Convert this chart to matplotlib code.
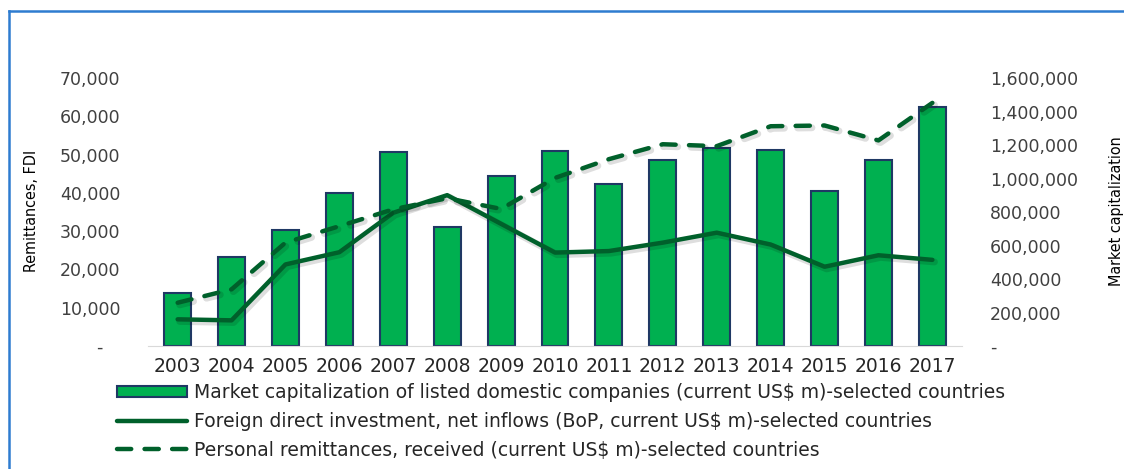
import matplotlib.pyplot as plt
import matplotlib.patheffects as pe
from matplotlib.lines import Line2D
from matplotlib.ticker import FuncFormatter

# Data
years = [2003, 2004, 2005, 2006, 2007, 2008, 2009, 2010,
         2011, 2012, 2013, 2014, 2015, 2016, 2017]
market_cap = [316000, 533000, 691000, 912000, 1158000, 710000, 1013000, 1162000,
              969000, 1110000, 1184000, 1168000, 925000, 1110000, 1429000]
fdi = [6970, 6700, 21300, 24500, 34800, 39400, 31900, 24400,
       24800, 27000, 29600, 26500, 20700, 23700, 22500]
remittances = [11300, 14800, 27000, 31300, 35700, 38600, 35800, 43900,
               48800, 52700, 52200, 57400, 57600, 53700, 63500]

bar_label = "Market capitalization of listed domestic companies (current US$ m)-selected countries"
fdi_label = "Foreign direct investment, net inflows (BoP, current US$ m)-selected countries"
rem_label = "Personal remittances, received (current US$ m)-selected countries"

line_color = '#00602B'
text_color = '#404040'
dash = (0, (3.2, 3.0))

def fmt_left(v, pos):
    if v == 0:
        return '-   '
    return f'{v:,.0f}'

def fmt_right(v, pos):
    if v == 0:
        return '-'
    return f'{v:,.0f}'

fig = plt.figure(figsize=(11.24, 4.69), dpi=100)
ax = fig.add_axes([148/1124, 1-346/469, (962-148)/1124, (346-78)/469])
ax2 = ax.twinx()

x = list(range(len(years)))

# bars on the right axis
bars = ax2.bar(x, market_cap, width=0.5, color='#00B050',
               edgecolor='#1F3864', linewidth=1.5, zorder=1)
ax2.set_ylim(0, 1600000)
ax2.set_yticks(range(0, 1600001, 200000))

# lines on the left axis, drawn above the bars
ax.set_zorder(ax2.get_zorder() + 1)
ax.patch.set_visible(False)
shadow = [pe.SimpleLineShadow(offset=(1.5, -1.5), alpha=0.13, shadow_color='black',
                              linewidth=5), pe.Normal()]
ax.plot(x, fdi, color=line_color, linewidth=3.2, solid_capstyle='round',
        solid_joinstyle='round', path_effects=shadow)
ax.plot(x, remittances, color=line_color, linewidth=3.2, linestyle=dash,
        dash_capstyle='round', path_effects=shadow)
ax.set_ylim(0, 70000)
ax.set_yticks(range(0, 70001, 10000))
ax.set_xlim(-0.55, len(years) - 0.45)
ax.set_xticks(x)
ax.set_xticklabels(years)

ax.yaxis.set_major_formatter(FuncFormatter(fmt_left))
ax2.yaxis.set_major_formatter(FuncFormatter(fmt_right))
for a in (ax, ax2):
    for s in a.spines.values():
        s.set_visible(False)
    a.tick_params(length=0, labelsize=12.5, labelcolor=text_color)
ax.spines['bottom'].set_visible(True)
ax.spines['bottom'].set_color('#D9D9D9')
ax.tick_params(axis='y', pad=20)
ax2.tick_params(axis='y', pad=20)
ax.tick_params(axis='x', pad=8, labelsize=13.5, labelcolor='#262626')

fig.text(32/1124, 1-211/469, 'Remittances, FDI', rotation=90, va='center', ha='center',
         fontsize=11.5, family='DejaVu Sans', fontstretch='condensed')
fig.text(1117/1124, 1-211/469, 'Market capitalization', rotation=90, va='center', ha='center',
         fontsize=11.5, family='DejaVu Sans', fontstretch='condensed')

handles = [bars, Line2D([], [], color=line_color, linewidth=3.2, solid_capstyle='round'),
           Line2D([], [], color=line_color, linewidth=3.2, linestyle=dash,
                  dash_capstyle='round')]
fig.legend(handles, [bar_label, fdi_label, rem_label], loc='upper left',
           bbox_to_anchor=(117/1124, 1-383/469), frameon=False, fontsize=13.5,
           handlelength=3.75, handleheight=0.55, handletextpad=0.38, labelspacing=0.52,
           borderpad=0, borderaxespad=0, labelcolor='#262626')

# blue frame (left and top edges)
fig.add_artist(Line2D([9/1124, 9/1124], [0, 1-11/469], color='#2E7CD0', linewidth=1.8))
fig.add_artist(Line2D([9/1124, 1], [1-11/469, 1-11/469], color='#2E7CD0', linewidth=1.8))

fig.savefig('out.png', dpi=100)
